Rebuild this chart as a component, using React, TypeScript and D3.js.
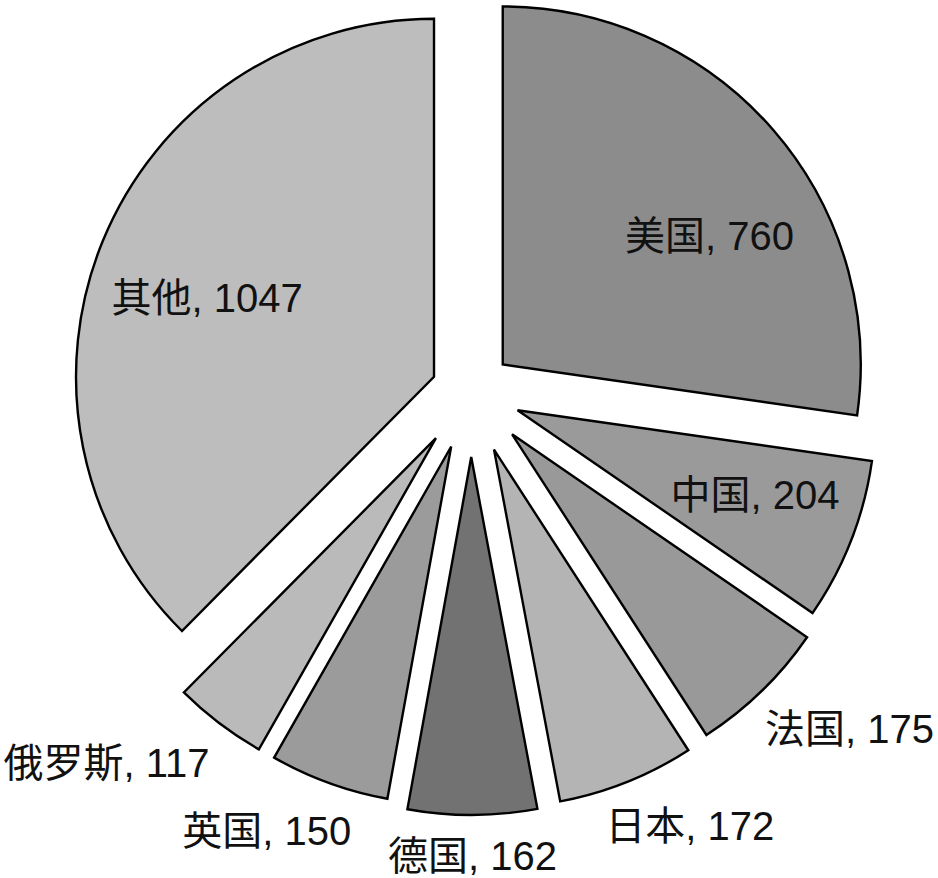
import * as d3 from 'd3'

const countries = ['美国', '中国', '法国', '日本', '德国', '英国', '俄罗斯', '其他']
const values = [760, 204, 175, 172, 162, 150, 117, 1047]

// slice look (kept apart from the data)
const FILLS = ['#8c8c8c', '#9a9a9a', '#999999', '#b4b4b4', '#727272', '#9b9b9b', '#bababa', '#bdbdbd']
const EXPLODE = [42, 50, 59, 62, 65, 58, 58, 40]
// label placement: radial distance from centre (px) and angle tweak (deg) off the slice middle
const LABEL_DIST = [285, 302, 507, 486, 464, 484, 520, 280]
const LABEL_TURN = [7.7, -1.5, -4.1, -5, 0, 5, 7.3, -2.8]

const W = 938, H = 878
const CX = 471, CY = 392, R = 358

const polar = (a: number, r: number): [number, number] => [Math.sin(a) * r, -Math.cos(a) * r]

export default function App() {
  const data = countries.map((c, i) => ({ name: c, value: values[i] }))
  const pie = d3.pie<{ name: string; value: number }>().sort(null).value((d) => d.value)
  const arcs = pie(data)
  const arc = d3.arc<d3.PieArcDatum<{ name: string; value: number }>>().innerRadius(0).outerRadius(R)

  return (
    <svg width={W} height={H} viewBox={`0 0 ${W} ${H}`}
      style={{ position: 'absolute', left: 0, top: 0, background: '#fff' }}
      fontFamily="'Liberation Sans', Arial, 'Noto Sans CJK SC', sans-serif">
      <g transform={`translate(${CX},${CY})`}>
        {arcs.map((a, i) => {
          const mid = (a.startAngle + a.endAngle) / 2
          const [dx, dy] = polar(mid, EXPLODE[i])
          return (
            <path key={a.data.name} d={arc(a) ?? ''} transform={`translate(${dx},${dy})`}
              fill={FILLS[i]} stroke="#000" strokeWidth={2.4} strokeLinejoin="miter" />
          )
        })}
        {arcs.map((a, i) => {
          const mid = (a.startAngle + a.endAngle) / 2 + (LABEL_TURN[i] * Math.PI) / 180
          const [lx, ly] = polar(mid, LABEL_DIST[i])
          return (
            <text key={'t' + a.data.name} x={lx} y={ly + 14} textAnchor="middle"
              fontSize={40} fill="#111">
              {`${a.data.name}, ${a.data.value}`}
            </text>
          )
        })}
      </g>
    </svg>
  )
}
